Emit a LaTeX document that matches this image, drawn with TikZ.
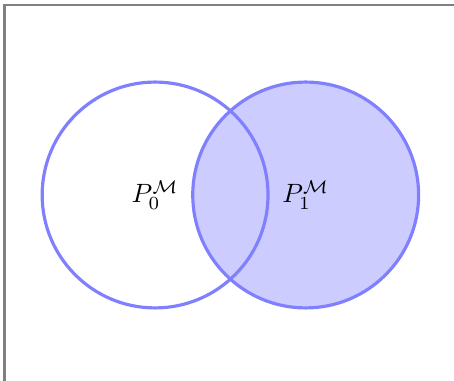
\documentclass[tikz,border=0pt]{standalone}
\usepackage{amsmath, amssymb}
\usepackage{tikz}
\usetikzlibrary{positioning}

\begin{document}
\begin{tikzpicture}[
    set/.style   = {circle, draw=blue!50, very thick, minimum size=3cm, inner sep=0pt},
    frame/.style = {draw=gray, line width=0.8pt},
  ]

    %% ── Page size ───────────────────────────────────────────────────────────
    \useasboundingbox (-2.06,-2.47) rectangle (3.97,2.59);

    %% ── Sets ────────────────────────────────────────────────────────────────
    \node[set, fill=blue!20] (pone)  at (2, 0) {};
    \node[set]               (pzero) at (0, 0) {};

    %% ── Labels ──────────────────────────────────────────────────────────────
    \node (lzero) at (pzero.center) {$P_0^{\mathcal{M}}$};
    \node (lone)  at (pone.center)  {$P_1^{\mathcal{M}}$};

    %% Frame edges
    \draw[frame] (-2.0,-2.6) -- (-2.0,2.52) -- (4.1,2.52);

  \end{tikzpicture}
\end{document}
